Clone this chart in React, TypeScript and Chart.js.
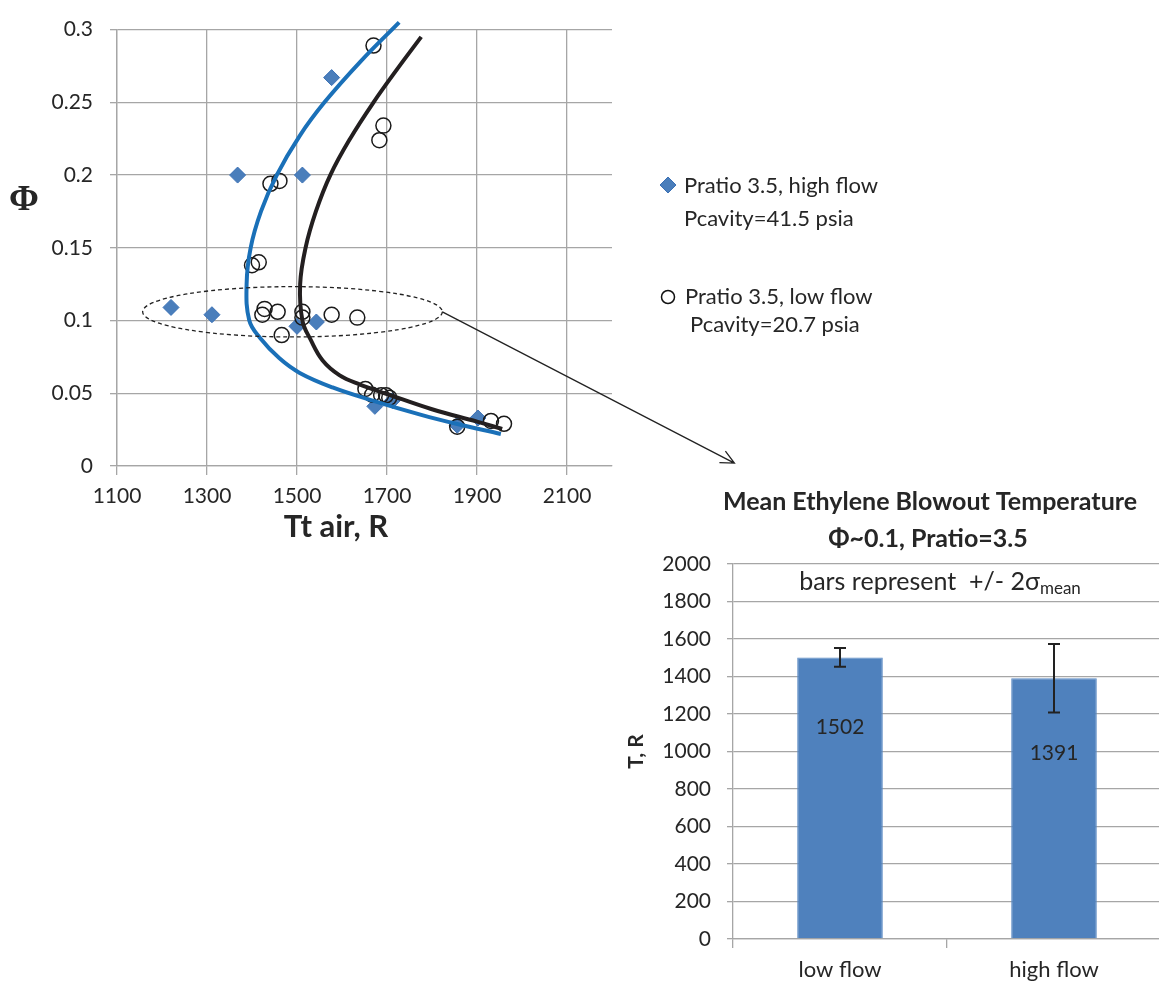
import React, { useEffect, useRef } from 'react';
import { Chart, registerables } from 'chart.js';
Chart.register(...registerables);

const FONT = 'Lato, "Open Sans", sans-serif';
const TEXT = '#262626';
const GRID = '#a6a6a6';

// ---------- scatter data (Tt air in R, Phi) ----------
const highFlowT = [1577, 1368, 1512, 1220, 1311, 1500, 1543, 1673, 1712, 1856, 1902];
const highFlowPhi = [0.267, 0.2, 0.2, 0.109, 0.104, 0.096, 0.099, 0.041, 0.045, 0.028, 0.033];
const lowFlowT = [1670, 1692, 1683, 1461, 1441, 1415, 1400, 1428, 1423, 1457, 1466, 1512, 1512, 1577, 1634, 1652, 1667, 1687, 1698, 1705, 1856, 1931, 1960];
const lowFlowPhi = [0.289, 0.234, 0.224, 0.196, 0.194, 0.14, 0.138, 0.108, 0.104, 0.106, 0.09, 0.106, 0.102, 0.104, 0.102, 0.053, 0.049, 0.0486, 0.0486, 0.047, 0.027, 0.031, 0.029];
// trend curves (read along the drawn fits)
const highFitT = [1727, 1641, 1561, 1506, 1455, 1420, 1397, 1388, 1394, 1418, 1461, 1506, 1579, 1668, 1778, 1854, 1953];
const highFitPhi = [0.305, 0.278, 0.25, 0.227, 0.2, 0.175, 0.15, 0.125, 0.1, 0.088, 0.074, 0.064, 0.054, 0.045, 0.035, 0.029, 0.022];
const lowFitT = [1776, 1723, 1670, 1618, 1574, 1542, 1519, 1507, 1512, 1530, 1557, 1594, 1640, 1700, 1800, 1900, 1956];
const lowFitPhi = [0.295, 0.273, 0.25, 0.225, 0.2, 0.175, 0.15, 0.125, 0.1, 0.087, 0.0725, 0.0625, 0.056, 0.0495, 0.039, 0.0305, 0.0255];
const xTickValues = [1100, 1300, 1500, 1700, 1900, 2100];
const legendLines = [
  ['Pratio 3.5, high flow', 'Pcavity=41.5 psia'],
  ['Pratio 3.5, low flow', 'Pcavity=20.7 psia'],
];
// ellipse around Phi~0.1 cluster: centre T, centre Phi, half-width T, half-height Phi
const ellipseSpec = [1490, 0.106, 333, 0.0173];
const arrowEnd = [2472, 0.002];

// ---------- bar data ----------
const barCategories = ['low flow', 'high flow'];
const barMeans = [1502, 1391];
const barErrors = [50, 183];

const zip = (xs: number[], ys: number[]) => xs.map((x, i) => ({ x, y: ys[i] }));

export default function App() {
  const scatterRef = useRef<HTMLCanvasElement>(null);
  const barRef = useRef<HTMLCanvasElement>(null);

  useEffect(() => {
    const scatterPlugin = {
      id: 'scatterDecor',
      afterDatasetsDraw(chart: any) {
        const { ctx, scales } = chart;
        const xs = scales.x, ys = scales.y;
        ctx.save();
        const cx = xs.getPixelForValue(ellipseSpec[0]);
        const cy = ys.getPixelForValue(ellipseSpec[1]);
        const rx = xs.getPixelForValue(ellipseSpec[0] + ellipseSpec[2]) - cx;
        const ry = cy - ys.getPixelForValue(ellipseSpec[1] + ellipseSpec[3]);
        ctx.strokeStyle = '#222';
        ctx.lineWidth = 1.3;
        ctx.setLineDash([4, 3]);
        ctx.beginPath();
        ctx.ellipse(cx, cy, rx, ry, 0, 0, Math.PI * 2);
        ctx.stroke();
        ctx.setLineDash([]);
        const ax = cx + rx, ay = cy;
        const bx = xs.getPixelForValue(arrowEnd[0]);
        const by = ys.getPixelForValue(arrowEnd[1]);
        ctx.lineWidth = 1.3;
        ctx.beginPath();
        ctx.moveTo(ax, ay);
        ctx.lineTo(bx, by);
        const ang = Math.atan2(by - ay, bx - ax);
        const h = 15;
        ctx.moveTo(bx - h * Math.cos(ang - 0.45), by - h * Math.sin(ang - 0.45));
        ctx.lineTo(bx, by);
        ctx.lineTo(bx - h * Math.cos(ang + 0.45), by - h * Math.sin(ang + 0.45));
        ctx.stroke();
        ctx.restore();
      },
      afterDraw(chart: any) {
        const { ctx, chartArea } = chart;
        ctx.save();
        ctx.fillStyle = TEXT;
        ctx.font = 'bold 36px "Liberation Serif", "DejaVu Serif", serif';
        ctx.textAlign = 'center';
        ctx.textBaseline = 'middle';
        ctx.fillText('Φ', 24, 201);
        ctx.font = `bold 31px ${FONT}`;
        ctx.fillText('Tt air, R', chartArea.left + 219, 527);
        const lx = chartArea.right + 56;
        ctx.textAlign = 'left';
        ctx.font = `22px ${FONT}`;
        ctx.fillStyle = '#4a7ebb';
        ctx.strokeStyle = '#3a70b5';
        ctx.lineWidth = 1;
        ctx.beginPath();
        ctx.moveTo(lx - 8, 185); ctx.lineTo(lx, 177); ctx.lineTo(lx + 8, 185); ctx.lineTo(lx, 193); ctx.closePath();
        ctx.fill(); ctx.stroke();
        ctx.fillStyle = TEXT;
        ctx.fillText(legendLines[0][0], lx + 16, 186);
        ctx.fillText(legendLines[0][1], lx + 16, 219);
        ctx.strokeStyle = '#111';
        ctx.lineWidth = 1.5;
        ctx.beginPath();
        ctx.arc(lx, 297, 6.5, 0, Math.PI * 2);
        ctx.stroke();
        ctx.fillText(legendLines[1][0], lx + 17, 297);
        ctx.fillText(legendLines[1][1], lx + 22, 325);
        ctx.restore();
      },
    };

    const scatter = new Chart(scatterRef.current!, {
      type: 'scatter',
      data: {
        datasets: [
          {
            label: 'fit high',
            data: zip(highFitT, highFitPhi),
            showLine: true,
            borderColor: '#1a70b8',
            borderWidth: 4,
            pointRadius: 0,
            tension: 0.4,
            clip: false as any,
            order: 0,
          },
          {
            label: 'fit low',
            data: zip(lowFitT, lowFitPhi),
            showLine: true,
            borderColor: '#231f20',
            borderWidth: 4,
            pointRadius: 0,
            tension: 0.4,
            clip: false as any,
            order: 0,
          },
          {
            label: 'Pratio 3.5, high flow',
            data: zip(highFlowT, highFlowPhi),
            pointStyle: 'rectRot',
            pointRadius: 8,
            backgroundColor: '#4a7ebb',
            borderColor: '#3a70b5',
            borderWidth: 1,
            order: 2,
          },
          {
            label: 'Pratio 3.5, low flow',
            data: zip(lowFlowT, lowFlowPhi),
            pointStyle: 'circle',
            pointRadius: 7.5,
            backgroundColor: 'rgba(0,0,0,0)',
            borderColor: '#1a1a1a',
            borderWidth: 1.5,
            order: 1,
          },
        ],
      },
      options: {
        animation: false,
        responsive: false,
        devicePixelRatio: 1,
        layout: { padding: { top: 15, right: 547, bottom: 0, left: 0 } },
        elements: { line: { capBezierPoints: false } },
        plugins: { legend: { display: false }, tooltip: { enabled: false } },
        scales: {
          x: {
            type: 'linear',
            min: 1100,
            max: 2200,
            afterBuildTicks: (s: any) => { s.ticks = xTickValues.map((v) => ({ value: v })); },
            afterFit: (s: any) => { s.height = 94; },
            grid: { color: GRID, lineWidth: 1.3, tickLength: 9 },
            border: { color: GRID, width: 1.3 },
            ticks: { font: { family: FONT, size: 21 }, color: TEXT, padding: 9, maxRotation: 0, callback: (v: any) => String(v) },
          },
          y: {
            min: 0,
            max: 0.3,
            afterFit: (s: any) => { s.width = 117; },
            grid: { color: GRID, lineWidth: 1.3, tickLength: 7 },
            border: { color: GRID, width: 1.3 },
            ticks: {
              stepSize: 0.05,
              font: { family: FONT, size: 21 },
              color: TEXT,
              padding: 17,
              callback: (v: any) => String(+Number(v).toFixed(2)),
            },
          },
        },
      },
      plugins: [scatterPlugin],
    } as any);

    const barPlugin = {
      id: 'barDecor',
      afterDatasetsDraw(chart: any) {
        const { ctx, scales } = chart;
        const meta = chart.getDatasetMeta(0);
        ctx.save();
        ctx.strokeStyle = '#222';
        ctx.lineWidth = 2;
        meta.data.forEach((el: any, i: number) => {
          const yTop = scales.y.getPixelForValue(barMeans[i] + barErrors[i]);
          const yBot = scales.y.getPixelForValue(barMeans[i] - barErrors[i]);
          ctx.beginPath();
          ctx.moveTo(el.x, yTop); ctx.lineTo(el.x, yBot);
          ctx.moveTo(el.x - 6, yTop); ctx.lineTo(el.x + 6, yTop);
          ctx.moveTo(el.x - 6, yBot); ctx.lineTo(el.x + 6, yBot);
          ctx.stroke();
        });
        ctx.fillStyle = TEXT;
        ctx.font = `21px ${FONT}`;
        ctx.textAlign = 'center';
        ctx.textBaseline = 'middle';
        meta.data.forEach((el: any, i: number) => {
          ctx.fillText(String(barMeans[i]), el.x, el.y + (i === 0 ? 70 : 75));
        });
        ctx.restore();
      },
      afterDraw(chart: any) {
        const { ctx } = chart;
        ctx.save();
        ctx.fillStyle = TEXT;
        ctx.textAlign = 'center';
        ctx.textBaseline = 'middle';
        ctx.font = `bold 25px ${FONT}`;
        ctx.fillText('Mean Ethylene Blowout Temperature', 310, 32);
        ctx.fillText('Φ~0.1, Pratio=3.5', 308, 69);
        const main = 'bars represent  +/- 2σ';
        const sub = 'mean';
        ctx.font = `25px ${FONT}`;
        const w1 = ctx.measureText(main).width;
        ctx.font = `17px ${FONT}`;
        const w2 = ctx.measureText(sub).width;
        const start = 320 - (w1 + w2) / 2;
        ctx.textAlign = 'left';
        ctx.font = `25px ${FONT}`;
        ctx.fillText(main, start, 112);
        ctx.font = `17px ${FONT}`;
        ctx.fillText(sub, start + w1, 119);
        ctx.restore();
      },
    };

    const bar = new Chart(barRef.current!, {
      type: 'bar',
      data: {
        labels: barCategories,
        datasets: [
          {
            label: 'Mean blowout temperature',
            data: barMeans,
            backgroundColor: '#4f81bd',
            borderColor: '#5b8ac4',
            borderWidth: 1,
            barPercentage: 0.4,
            categoryPercentage: 1,
          },
        ],
      },
      options: {
        animation: false,
        responsive: false,
        devicePixelRatio: 1,
        layout: { padding: { top: 94, right: 0, bottom: 0, left: 0 } },
        plugins: { legend: { display: false }, tooltip: { enabled: false } },
        scales: {
          x: {
            afterFit: (s: any) => { s.height = 51; },
            grid: { drawOnChartArea: false, tickLength: 9, color: GRID, lineWidth: 1.3, offset: true },
            border: { color: GRID, width: 1.3 },
            ticks: { font: { family: FONT, size: 22 }, color: TEXT, padding: 9 },
          },
          y: {
            min: 0,
            max: 2000,
            afterFit: (s: any) => { s.width = 113; },
            title: { display: true, text: 'T, R', font: { family: FONT, size: 21, weight: 'bold' }, color: TEXT, padding: 4 },
            grid: { color: GRID, lineWidth: 1.3, tickLength: 6 },
            border: { color: GRID, width: 1.3 },
            ticks: { stepSize: 200, font: { family: FONT, size: 21 }, color: TEXT, padding: 16, callback: (v: any) => String(v) },
          },
        },
      },
      plugins: [barPlugin],
    } as any);

    return () => {
      scatter.destroy();
      bar.destroy();
    };
  }, []);

  return (
    <div style={{ position: 'absolute', left: 0, top: 0, width: 1159, height: 990, overflow: 'hidden', background: '#fff' }}>
      <canvas ref={scatterRef} width={1159} height={560} style={{ position: 'absolute', left: 0, top: 0, width: 1159, height: 560 }} />
      <canvas ref={barRef} width={541} height={520} style={{ position: 'absolute', left: 620, top: 470, width: 541, height: 520 }} />
    </div>
  );
}
